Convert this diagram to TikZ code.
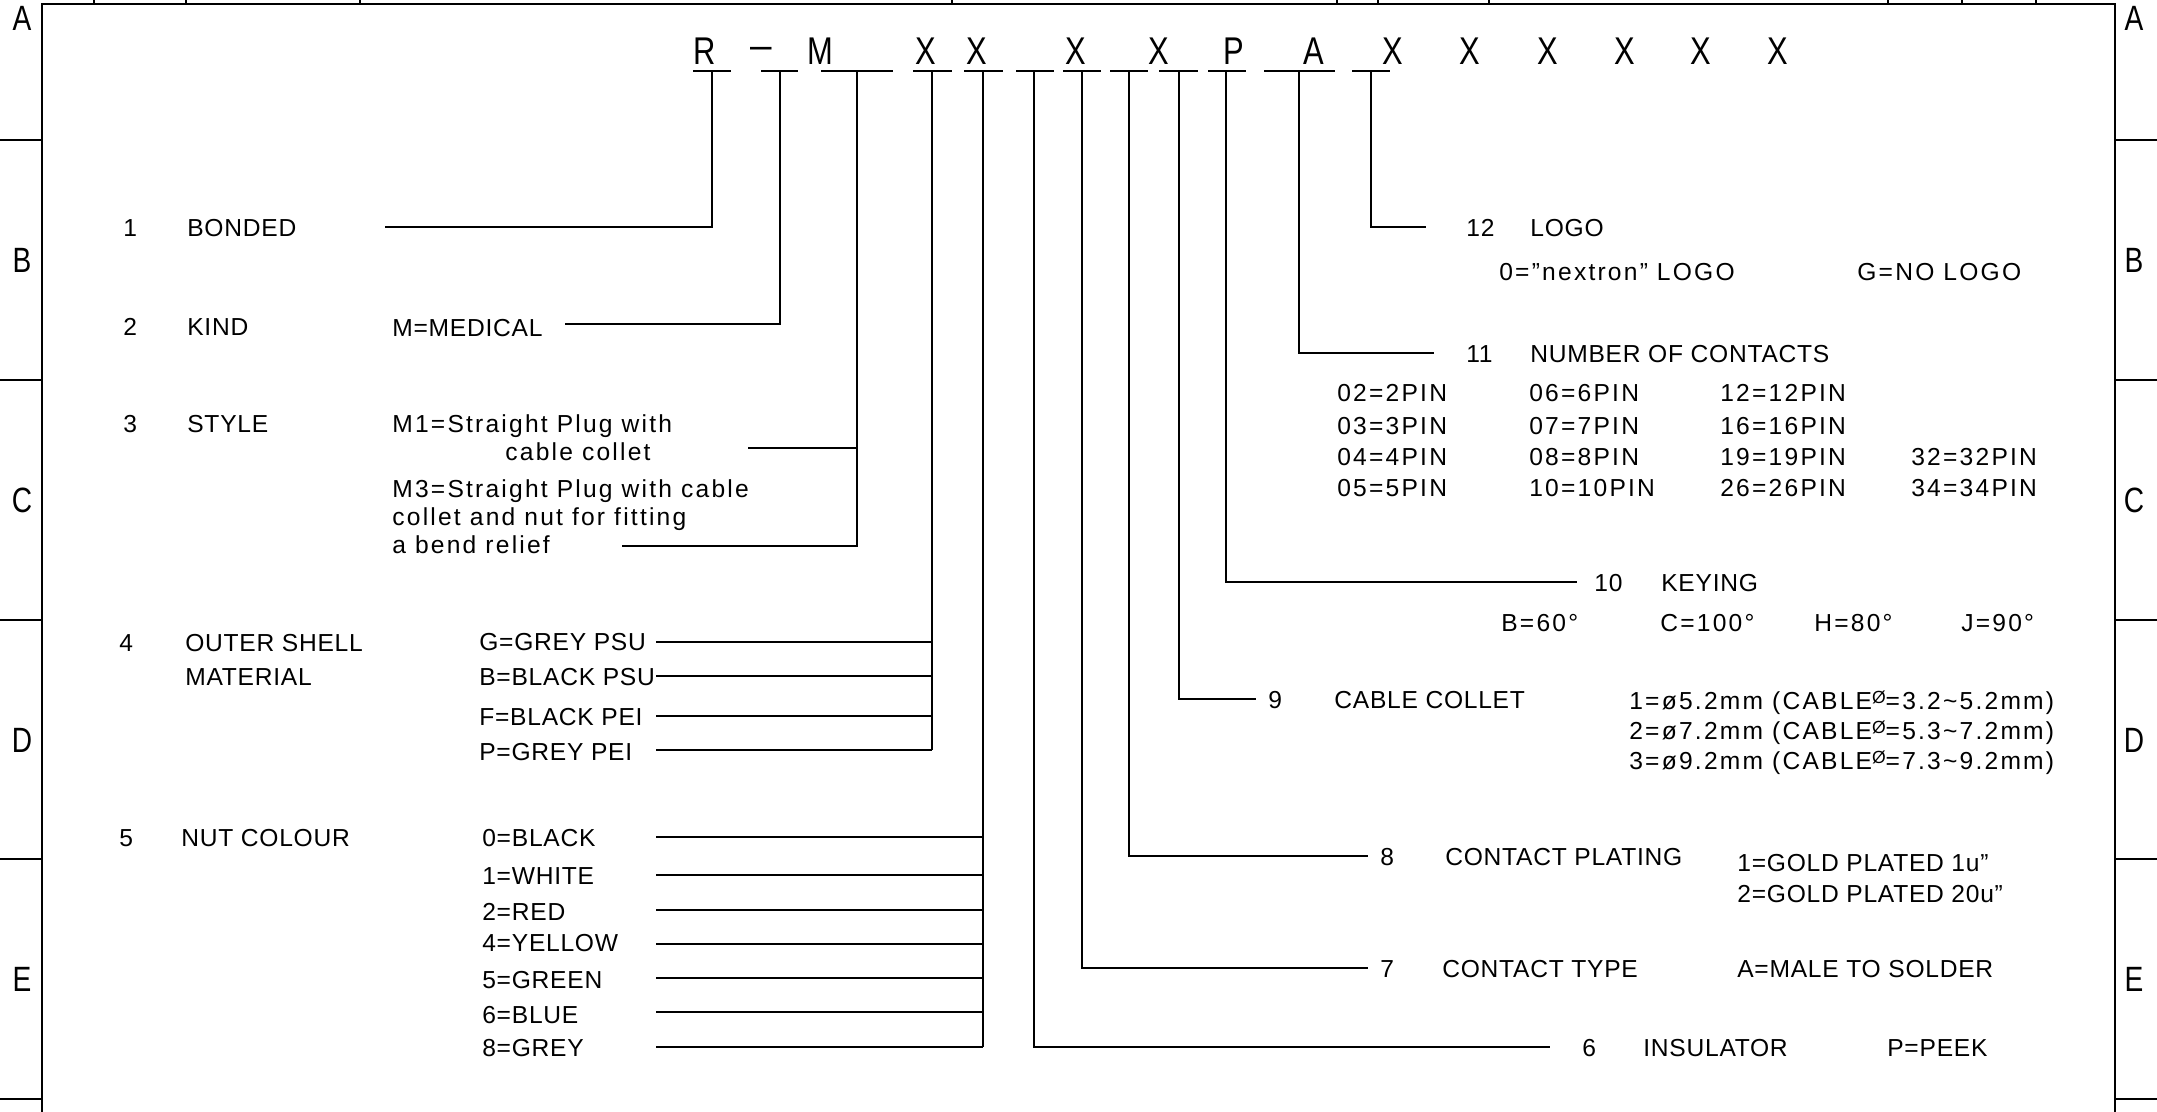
\documentclass[tikz,border=0pt]{standalone}
\usepackage{fontspec}
\setmainfont{Liberation Sans}[LetterSpace=3]
\newfontfamily\loosefont{Liberation Sans}[LetterSpace=9]
\newfontfamily\narrowfont{Liberation Sans}[FakeStretch=0.8]
\usetikzlibrary{positioning}
\newcommand{\supdia}{\raisebox{0.45ex}{\fontsize{10}{10}\selectfont Ø}}

\begin{document}
\begin{tikzpicture}[x=0.02cm, y=-0.02cm, every node/.style={font=\fontsize{14}{16}\selectfont, inner sep=0pt, anchor=base west}]
    \tikzstyle{code}=[font=\narrowfont\fontsize{22}{24}\selectfont, anchor=base]
    \tikzstyle{zone}=[font=\narrowfont\fontsize{20}{22}\selectfont, anchor=center]
    \tikzstyle{loose}=[font=\loosefont\fontsize{14}{16}\selectfont]
    \tikzstyle{wire}=[line width=0.8pt]
    \tikzstyle{frame}=[line width=1pt]
    \useasboundingbox (0,0) rectangle (2157,1112);

    % drawing frame
    \draw[frame] (42,1112) -- (42,4) -- (2115,4) -- (2115,1112);
    \foreach \x in {94,186,360,952,1337,1378,1489,1888,1962,2036} \draw[frame] (\x,0) -- (\x,4);
    \foreach \y in {140,380,620,859,1099} {
      \draw[frame] (0,\y) -- (42,\y);
      \draw[frame] (2115,\y) -- (2157,\y);
    }
    \foreach \z/\y in {A/18,B/260,C/500,D/740,E/979} {
      \node[zone] (zl\z) at (22,\y) {\z};
      \node[zone] (zr\z) at (2134,\y) {\z};
    }

    % order code
    \foreach \t/\x [count=\i] in {R/705,{\normalfont\raisebox{0.15em}{–}}/761,M/820,X/926,X/977,X/1076,X/1159,P/1234,A/1314,X/1393,X/1470,X/1548,X/1625,X/1701,X/1778}
      \node[code] (c\i) at (\x,64) {\t};
    \foreach \i/\a/\b/\m in {1/693/731/712,2/761/798/780,3/821/893/857,4/913/952/932,5/964/1003/983,6/1016/1054/1034,7/1063/1101/1082,8/1110/1148/1129,9/1159/1198/1179,10/1208/1246/1226,11/1264/1335/1299,12/1352/1390/1371} {
      \draw[wire] (\a,71) -- (\b,71);
      \coordinate (t\i) at (\m,71);
    }

    % 1 bonded
    \node (n1) at (123,236) {1};
    \node (f1) at (187,236) {BONDED};
    \coordinate (e1) at (385,227);
    \draw[wire] (t1) |- (e1);

    % 2 kind
    \node (n2) at (123,335) {2};
    \node (f2) at (187,335) {KIND};
    \node (v2) at (392,336) {M=MEDICAL};
    \coordinate (e2) at (565,324);
    \draw[wire] (t2) |- (e2);

    % 3 style
    \node (n3) at (123,432) {3};
    \node (f3) at (187,432) {STYLE};
    \node[loose] (v3a) at (392,432) {M1=Straight Plug with};
    \node[loose] (v3b) at (505,460) {cable collet};
    \node[loose] (v3c) at (392,497) {M3=Straight Plug with cable};
    \node[loose] (v3d) at (392,525) {collet and nut for fitting};
    \node[loose] (v3e) at (392,553) {a bend relief};
    \coordinate (e3a) at (748,448);
    \coordinate (e3b) at (622,546);
    \draw[wire] (t3) |- (e3b);
    \draw[wire] (e3a) -- (t3 |- e3a);

    % 4 outer shell
    \node (n4) at (119,651) {4};
    \node (f4) at (185,651) {OUTER SHELL};
    \node (f4b) at (185,685) {MATERIAL};
    \foreach \v/\yb/\yl [count=\j] in {G=GREY PSU/650/642,B=BLACK PSU/685/676,F=BLACK PEI/725/716,P=GREY PEI/760/750} {
      \node (v4\j) at (479,\yb) {\v};
      \coordinate (e4\j) at (656,\yl);
      \draw[wire] (e4\j) -- (t4 |- e4\j);
    }
    \draw[wire] (t4) -- (t4 |- e44);

    % 5 nut colour
    \node (n5) at (119,846) {5};
    \node (f5) at (181,846) {NUT COLOUR};
    \foreach \v/\yb/\yl [count=\j] in {0=BLACK/846/837,1=WHITE/884/875,2=RED/920/910,4=YELLOW/951/944,5=GREEN/988/978,6=BLUE/1023/1012,8=GREY/1056/1047} {
      \node (v5\j) at (482,\yb) {\v};
      \coordinate (e5\j) at (656,\yl);
      \draw[wire] (e5\j) -- (t5 |- e5\j);
    }
    \draw[wire] (t5) -- (t5 |- e57);

    % 6 insulator
    \coordinate (e6) at (1550,1047);
    \draw[wire] (t6) |- (e6);
    \node (n6) at (1582,1056) {6};
    \node (f6) at (1643,1056) {INSULATOR};
    \node (v6) at (1887,1056) {P=PEEK};

    % 7 contact type
    \coordinate (e7) at (1368,968);
    \draw[wire] (t7) |- (e7);
    \node (n7) at (1380,977) {7};
    \node (f7) at (1442,977) {CONTACT TYPE};
    \node (v7) at (1737,977) {A=MALE TO SOLDER};

    % 8 contact plating
    \coordinate (e8) at (1368,856);
    \draw[wire] (t8) |- (e8);
    \node (n8) at (1380,865) {8};
    \node (f8) at (1445,865) {CONTACT PLATING};
    \node (v8a) at (1737,871) {1=GOLD PLATED 1u”};
    \node (v8b) at (1737,902) {2=GOLD PLATED 20u”};

    % 9 cable collet
    \coordinate (e9) at (1256,699);
    \draw[wire] (t9) |- (e9);
    \node (n9) at (1268,708) {9};
    \node (f9) at (1334,708) {CABLE COLLET};
    \node[loose] (v9a) at (1629,709) {1=ø5.2mm (CABLE\supdia=3.2\textasciitilde 5.2mm)};
    \node[loose] (v9b) at (1629,739) {2=ø7.2mm (CABLE\supdia=5.3\textasciitilde 7.2mm)};
    \node[loose] (v9c) at (1629,769) {3=ø9.2mm (CABLE\supdia=7.3\textasciitilde 9.2mm)};

    % 10 keying
    \coordinate (e10) at (1577,582);
    \draw[wire] (t10) |- (e10);
    \node (n10) at (1594,591) {10};
    \node (f10) at (1661,591) {KEYING};
    \foreach \v/\x [count=\j] in {B=60°/1501,C=100°/1660,H=80°/1814,J=90°/1961}
      \node[loose] (v10\j) at (\x,631) {\v};

    % 11 number of contacts
    \coordinate (e11) at (1434,353);
    \draw[wire] (t11) |- (e11);
    \node (n11) at (1466,362) {11};
    \node (f11) at (1530,362) {NUMBER OF CONTACTS};
    \foreach \v/\x/\y [count=\j] in {02=2PIN/1337/401,03=3PIN/1337/434,04=4PIN/1337/465,05=5PIN/1337/496,
        06=6PIN/1529/401,07=7PIN/1529/434,08=8PIN/1529/465,10=10PIN/1529/496,
        12=12PIN/1720/401,16=16PIN/1720/434,19=19PIN/1720/465,26=26PIN/1720/496,
        32=32PIN/1911/465,34=34PIN/1911/496}
      \node[loose] (p\j) at (\x,\y) {\v};

    % 12 logo
    \coordinate (e12) at (1426,227);
    \draw[wire] (t12) |- (e12);
    \node (n12) at (1466,236) {12};
    \node (f12) at (1530,236) {LOGO};
    \node[loose] (v12a) at (1499,280) {0=”nextron” LOGO};
    \node[loose] (v12b) at (1857,280) {G=NO LOGO};
  \end{tikzpicture}
\end{document}
